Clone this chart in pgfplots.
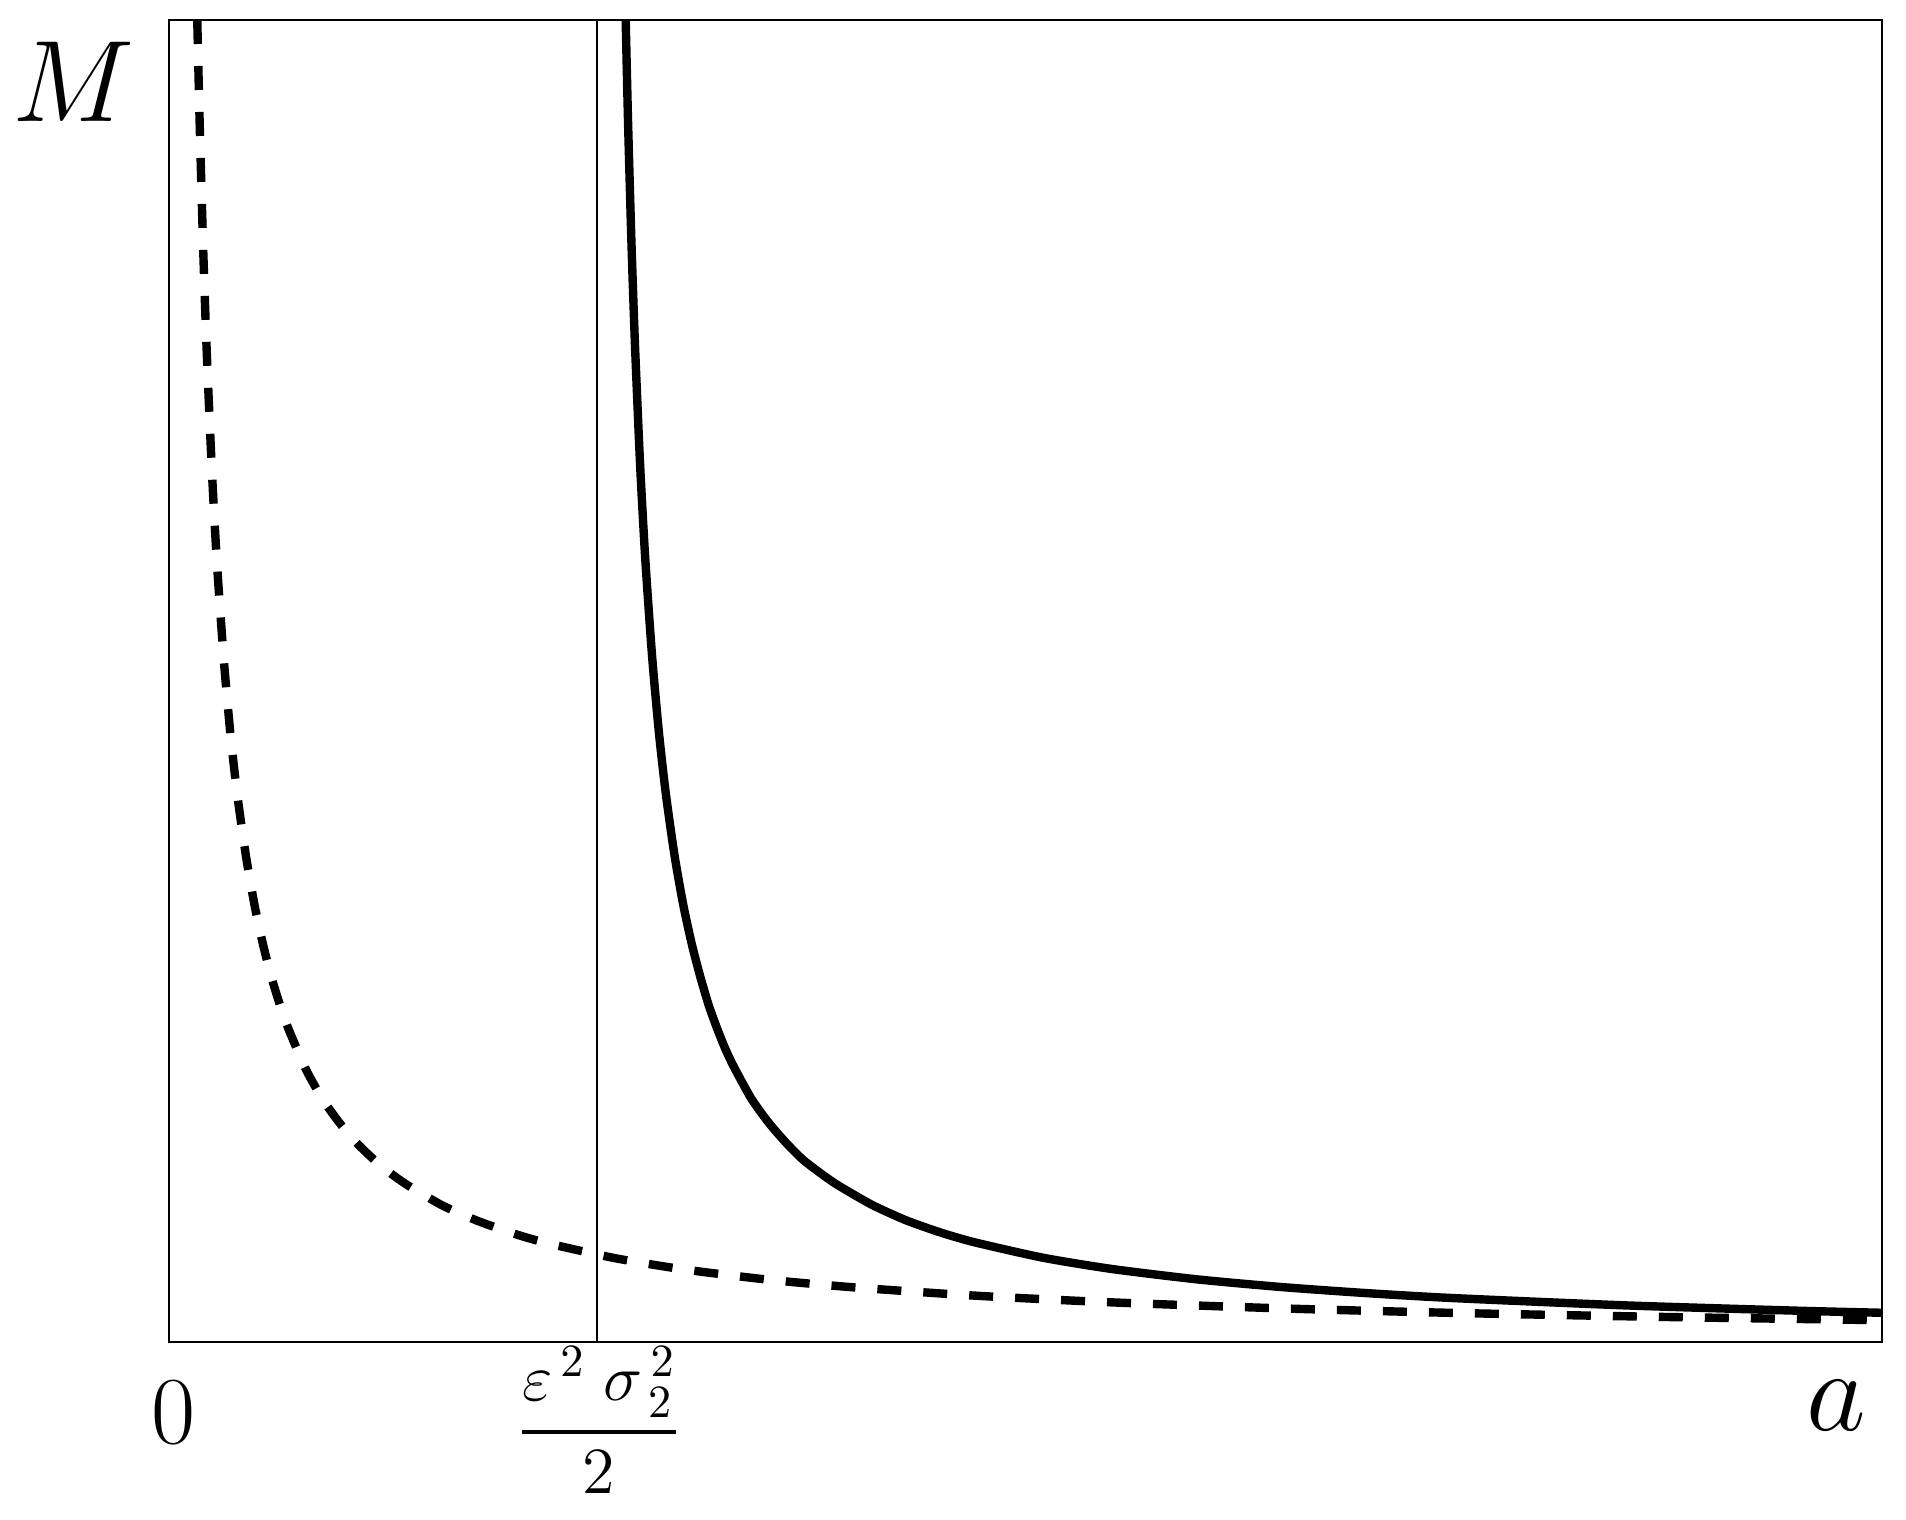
\RequirePackage{fix-cm}
\documentclass[border=0pt]{standalone}
\usepackage{amsmath}
\usepackage{pgfplots}
\pgfplotsset{compat=1.18}
\usetikzlibrary{calc}

% dashed curve: M over a
\pgfplotstableread{
x y
0.0165 1.000
0.018 0.917
0.020 0.825
0.022 0.750
0.025 0.660
0.028 0.589
0.032 0.516
0.036 0.458
0.040 0.4125
0.045 0.367
0.050 0.330
0.055 0.300
0.060 0.275
0.065 0.254
0.070 0.236
0.080 0.206
0.090 0.183
0.100 0.165
0.110 0.150
0.120 0.1375
0.130 0.127
0.140 0.118
0.160 0.103
0.180 0.0917
0.200 0.0825
0.220 0.0750
0.260 0.0635
0.300 0.0550
0.350 0.0471
0.400 0.0413
0.470 0.0351
0.550 0.0300
0.650 0.0254
0.750 0.0220
0.870 0.0190
1.000 0.0165
}\dashedcurve

% solid curve: blows up at the vertical line
\pgfplotstableread{
x y
0.2666 1.000
0.268 0.922
0.270 0.830
0.272 0.755
0.275 0.664
0.278 0.593
0.282 0.519
0.286 0.461
0.290 0.415
0.295 0.369
0.300 0.332
0.305 0.302
0.310 0.277
0.315 0.255
0.320 0.237
0.325 0.221
0.330 0.2075
0.340 0.184
0.350 0.166
0.360 0.151
0.370 0.138
0.380 0.128
0.390 0.119
0.410 0.104
0.430 0.0922
0.450 0.0830
0.470 0.0755
0.510 0.0638
0.550 0.0553
0.600 0.0474
0.650 0.0415
0.700 0.0369
0.750 0.0332
0.850 0.0277
0.950 0.0237
1.000 0.0221
}\solidcurve

\begin{document}
\begin{tikzpicture}
\begin{axis}[
  name=main,
  scale only axis,
  width=428.25pt, height=330.5pt,
  xmin=0, xmax=1, ymin=0, ymax=1,
  ticks=none,
  axis line style={line width=0.5pt},
]
\addplot[line width=0.45pt] coordinates {(0.25,0) (0.25,1)};
\addplot[line width=2.1pt, smooth, tension=0.4, dash pattern=on 6pt off 5.5pt] table[x=x,y=y] {\dashedcurve};
\addplot[line width=2.1pt, smooth, tension=0.4] table[x=x,y=y] {\solidcurve};
\end{axis}

\node[anchor=base, inner sep=0pt, font=\fontsize{24}{28}\selectfont]
  at ($(main.south west)+(1.1pt,-25.5pt)$) {$0$};
\node[anchor=center, inner sep=0pt, font=\fontsize{16.5}{20}\selectfont]
  at ($(main.south west)+(107.5pt,-19.6pt)$)
  {$\genfrac{}{}{1pt}{0}{\varepsilon^{\,2}\;\sigma_{\,2}^{\,2}}{2}$};
\node[anchor=base, inner sep=0pt, font=\fontsize{29}{34}\selectfont]
  at ($(main.south east)+(-11.5pt,-22.25pt)$) {$a$};
\node[anchor=base east, inner sep=0pt, font=\fontsize{29}{34}\selectfont]
  at ($(main.north west)+(-8.4pt,-25.5pt)$) {$M$};

\path ($(main.south west)+(-42.25pt,-44.5pt)$) rectangle ($(main.north east)+(6pt,5pt)$);
\end{tikzpicture}
\end{document}
